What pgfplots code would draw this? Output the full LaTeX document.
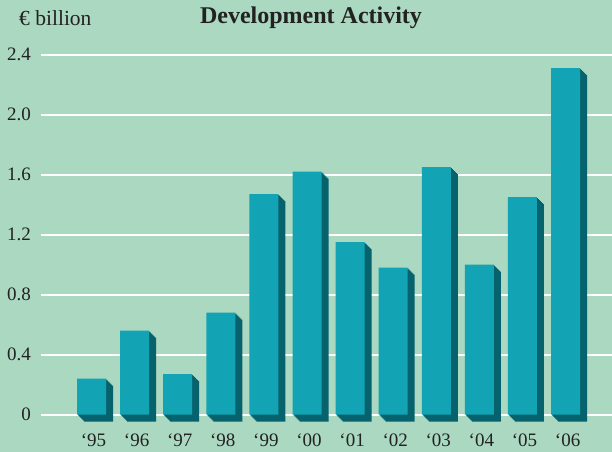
\documentclass[border=0pt]{standalone}
\usepackage{fontspec}
\setmainfont{Liberation Serif}
\usepackage{pgfplots}
\usepackage{pgfplotstable}
\pgfplotsset{compat=1.18}

\definecolor{bgmint}{RGB}{170,216,192}
\definecolor{barfront}{RGB}{18,164,180}
\definecolor{barside}{RGB}{6,98,108}
\definecolor{txt}{RGB}{34,34,34}

\pgfplotstableread{
x y
0 0.24
1 0.56
2 0.27
3 0.68
4 1.47
5 1.62
6 1.15
7 0.98
8 1.65
9 1.00
10 1.45
11 2.31
}\devdata

\begin{document}
\begin{tikzpicture}
\fill[bgmint] (0,0) rectangle (612bp,452bp);
\begin{axis}[
    at={(41bp,22.3bp)}, anchor=south west,
    scale only axis,
    width=571bp, height=375bp,
    xmin=-1.172, xmax=12.077,
    ymin=-0.1, ymax=2.4,
    axis line style={draw=none},
    xtick={0,...,11},
    xticklabels={‘95,‘96,‘97,‘98,‘99,‘00,‘01,‘02,‘03,‘04,‘05,‘06},
    ytick={0,0.4,...,2.4},
    yticklabels={0,0.4,0.8,1.2,1.6,2.0,2.4},
    major tick length=0pt,
    tick style={draw=none},
    ymajorgrids=true,
    grid style={white, line width=2bp},
    /pgf/number format/assume math mode=true,
    ticklabel style={text=txt, font=\fontsize{19bp}{22bp}\selectfont, inner sep=0pt},
    yticklabel style={anchor=east, xshift=-10bp},
    xticklabel style={anchor=north, xshift=2bp, yshift=-4bp},
    clip=false,
]
\pgfplotsinvokeforeach{1,...,7}{
  \addplot[ybar, bar width=29bp, bar shift=0pt, fill=barside, draw=none,
           xshift=#1bp, yshift=-#1bp] table[x=x, y=y] {\devdata};
}
\addplot[ybar, bar width=29bp, bar shift=0pt, fill=barfront, draw=none]
  table[x=x, y=y] {\devdata};
\end{axis}
\node[anchor=west, text=txt, font=\fontsize{21.5bp}{25bp}\selectfont, inner sep=0pt]
  at (19bp,434bp) {€ billion};
\node[text=txt, font=\bfseries\fontsize{24bp}{28bp}\selectfont, inner sep=0pt]
  at (311bp,434.5bp) {Development Activity};
\pgfresetboundingbox
\useasboundingbox (0,0) rectangle (612bp,452bp);
\end{tikzpicture}
\end{document}
